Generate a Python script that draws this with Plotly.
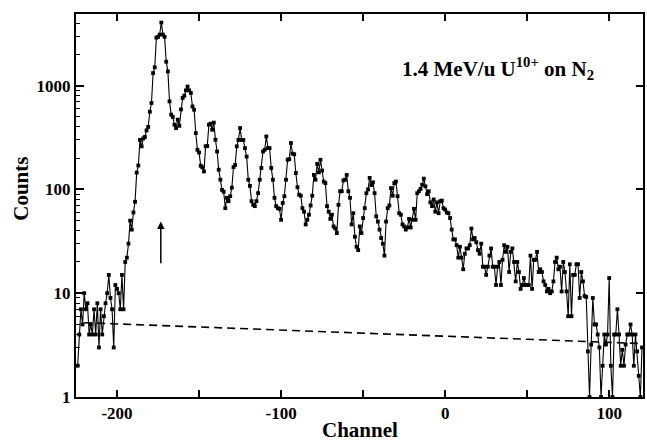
import plotly.graph_objects as go
import math

# ---- data (channel -> counts) ----
seg1_start = -224
seg1_counts = [2, 4, 7, 5, 10, 7, 8, 4, 5, 4, 7, 4, 8, 3, 7, 4, 6, 8, 10, 15,
               9, 7, 3, 12, 11, 10, 7, 15, 7, 20]
seg2_start = -194
seg2_counts = [22, 30, 50, 41, 60, 76, 145, 170, 300, 260,
               310, 320, 370, 400, 560, 680, 1320, 1500, 2900, 2950,
               3100, 4050, 3100, 2950, 1700, 1370, 705, 525, 500, 420,
               390, 470, 410, 590, 760, 800, 900, 980, 900, 850,
               630, 586, 349, 241, 227, 169, 163, 149, 260, 262,
               420, 430, 376, 440, 301, 232, 155, 124, 99, 95,
               66, 83, 77, 86]
seg3_start = -130
seg3_counts = [104, 164, 172, 260, 300, 390, 300, 300, 250, 207,
               124, 108, 77, 71, 69, 77, 92, 124, 161, 232,
               241, 324, 250, 250, 161, 124, 83, 69, 66, 65,
               51, 74, 86, 124, 193, 196, 280, 221, 218, 144,
               105, 89, 87, 66, 61, 46, 51, 57, 70, 87,
               138, 124, 176, 146, 193, 152, 119, 115, 69, 61,
               52, 57, 44, 42, 38, 71, 96, 96, 122, 124]
seg4_start = -60
seg4_counts = [138, 96, 83, 46, 59, 35, 28, 26, 44, 38,
               53, 66, 92, 100, 129, 110, 117, 92, 55, 49,
               41, 34, 30, 23, 49, 66, 70, 103, 87, 115,
               119, 86, 59, 57, 46, 44, 41, 43, 52, 43,
               51, 65, 51, 92, 96, 101, 111, 127, 107, 90,
               96, 75, 69, 80, 61, 75, 59, 77, 78, 66]
seg5_start = 0
seg5_counts = [64, 60, 59, 53, 41, 33, 33, 29, 22, 28,
               22, 17, 24, 27, 27, 29, 42, 33, 34, 31,
               26, 24, 30, 18, 18, 15, 18, 23, 27, 18,
               18, 12, 18, 20, 12, 21, 29, 25, 28, 16,
               25, 27, 20, 13, 20, 16, 11, 12, 14, 12,
               12, 12, 23, 11, 21, 21, 25, 16, 17, 16]
seg6_start = 60
seg6_counts = [13, 12, 10.4, 11, 10, 10.4, 13, 20, 22, 17,
               18, 10.4, 20, 16, 10.4, 6, 19, 6, 15, 15,
               19, 19, 9, 16, 13, 9.4, 9.2, 2.75, 1, 3.2,
               9, 5, 5, 4, 3, 1, 2, 4, 3.2, 4,
               14, 2, 1, 4, 4, 7, 4, 2, 2.85, 2,
               3.2, 4, 4, 5, 4, 2, 4, 2.75, 1.6, 1,
               3]

background_x = [-220, 120]
background_y = [5.2, 3.27]

arrow_channel = -173.3
arrow_tip = 49
arrow_tail = 18.8

x_tickvals = [-200, -100, 0, 100]
x_ticktext = ["-200", "-100", "0", "100"]
x_minorvals = [-150, -50, 50]
y_tickvals = [1, 10, 100, 1000]
y_ticktext = ["1", "10", "100", "1000"]

segments = [(seg1_start, seg1_counts), (seg2_start, seg2_counts),
            (seg3_start, seg3_counts), (seg4_start, seg4_counts),
            (seg5_start, seg5_counts), (seg6_start, seg6_counts)]
channels, counts = [], []
for start, vals in segments:
    channels += list(range(start, start + len(vals)))
    counts += vals

FONT = "Liberation Serif"
fig = go.Figure()
fig.add_trace(go.Scatter(x=background_x, y=background_y, mode="lines",
                         line=dict(color="black", width=1.6, dash="8px,5px"),
                         showlegend=False, hoverinfo="skip"))
fig.add_trace(go.Scatter(x=channels, y=counts, mode="lines+markers",
                         line=dict(color="black", width=1.1),
                         marker=dict(color="black", size=3.8, symbol="square"),
                         showlegend=False))
fig.add_trace(go.Scatter(x=[None], y=[None], yaxis="y2", showlegend=False,
                         hoverinfo="skip"))

minor_vals = [m * 10 ** d for d in range(0, 4) for m in range(2, 10) if m * 10 ** d < 4900]

fig.update_layout(
    width=647, height=441,
    margin=dict(l=76, r=2, t=14, b=44),
    paper_bgcolor="white", plot_bgcolor="white",
    font=dict(family=FONT, size=17, color="black", weight="bold"),
    xaxis=dict(range=[-225, 120.6], tickvals=x_tickvals, ticktext=x_ticktext,
               ticks="inside", ticklen=7, tickwidth=1.5, tickcolor="black",
               showline=True, linewidth=2, linecolor="black", mirror="ticks",
               showgrid=False, zeroline=False,
               minor=dict(tickvals=x_minorvals, ticks="inside", ticklen=7,
                          tickwidth=1.5, tickcolor="black", showgrid=False),
               tickfont=dict(family=FONT, size=17, weight="bold")),
    yaxis=dict(type="log", range=[0, 3.69], tickvals=y_tickvals, ticktext=y_ticktext,
               ticks="inside", ticklen=8, tickwidth=1.5, tickcolor="black",
               showline=True, linewidth=2, linecolor="black", mirror=True,
               showgrid=False, zeroline=False,
               minor=dict(tickvals=minor_vals, ticks="inside", ticklen=4,
                          tickwidth=1, tickcolor="black", showgrid=False),
               tickfont=dict(family=FONT, size=17, weight="bold")),
    yaxis2=dict(type="log", range=[0, 3.69], overlaying="y", side="right",
                tickvals=[10, 100, 1000], showticklabels=False,
                ticks="inside", ticklen=7, tickwidth=1.5, tickcolor="black",
                showgrid=False, zeroline=False, showline=False),
    annotations=[
        dict(x=arrow_channel, y=math.log10(arrow_tip), ax=arrow_channel,
             ay=math.log10(arrow_tail), xref="x", yref="y", axref="x", ayref="y",
             showarrow=True, arrowhead=2, arrowsize=1, arrowwidth=1.5,
             arrowcolor="black", text=""),
        dict(x=0.745, y=0.857, xref="paper", yref="paper", xanchor="center",
             yanchor="middle", showarrow=False,
             text="1.4 MeV/u U<sup>10+</sup> on N<sub>2</sub>",
             font=dict(family=FONT, size=21, weight="bold")),
        dict(x=-0.0975, y=0.543, xref="paper", yref="paper", xanchor="center",
             yanchor="middle", showarrow=False, textangle=-90, text="Counts",
             font=dict(family=FONT, size=21, weight="bold")),
        dict(x=0.5, y=-0.086, xref="paper", yref="paper", xanchor="center",
             yanchor="middle", showarrow=False, text="Channel",
             font=dict(family=FONT, size=21, weight="bold")),
    ],
)

fig.write_html("out.html", config={"displayModeBar": False},
               post_script="document.body.style.margin='0';document.body.style.overflow='hidden';")
